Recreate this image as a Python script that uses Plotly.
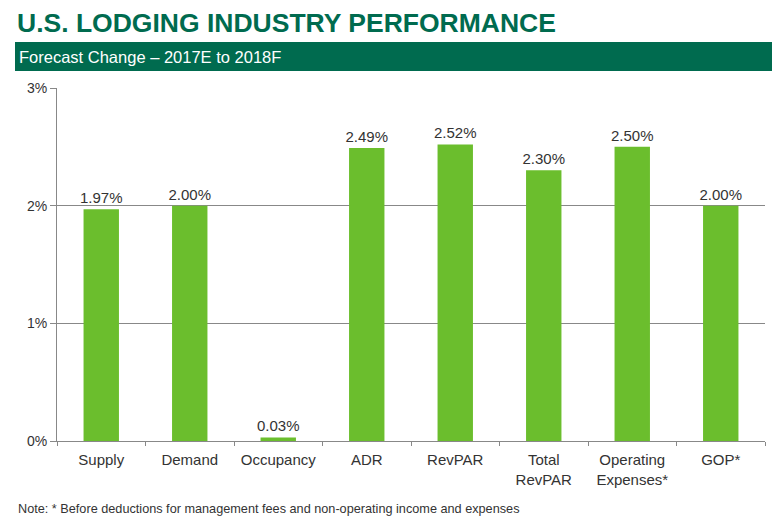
import plotly.graph_objects as go

categories = ["Supply", "Demand", "Occupancy", "ADR", "RevPAR", "Total<br>RevPAR", "Operating<br>Expenses*", "GOP*"]
values = [1.97, 2.00, 0.03, 2.49, 2.52, 2.30, 2.50, 2.00]
labels = ["1.97%", "2.00%", "0.03%", "2.49%", "2.52%", "2.30%", "2.50%", "2.00%"]
y_ticks = [0, 1, 2, 3]
y_tick_text = ["0%", "1%", "2%", "3%"]

OFF = 8  # default page body margin
W, H = 780 - OFF, 520 - OFF
# plot area in page pixels
PL, PR, PT, PB = 57, 765, 88, 441
L, T = PL - OFF, PT - OFF
R, B = W - (PR - OFF), H - (PB - OFF)
pw, ph = PR - PL, PB - PT

def px(x):
    return (x - PL) / pw

def py(y):
    return (PB - y) / ph

font = "Liberation Sans, Arial, sans-serif"
green_dark = "#006B4F"

fig = go.Figure()
fig.add_trace(go.Bar(
    x=categories, y=values, text=labels, textposition="outside",
    constraintext="none",
    textfont=dict(family=font, size=15, color="#333333"),
    marker=dict(color="#6BBE2D", line=dict(width=0)),
    cliponaxis=False, width=0.4,
))

fig.update_layout(
    width=W, height=H,
    margin=dict(l=L, r=R, t=T, b=B, pad=0),
    paper_bgcolor="white", plot_bgcolor="white",
    showlegend=False,
    font=dict(family=font, size=15, color="#333333"),
    xaxis=dict(
        showgrid=False, showline=True, linecolor="#888888", linewidth=1,
        ticks="outside", tickson="boundaries", ticklen=4, tickcolor="#888888",
        ticklabelstandoff=5,
        tickfont=dict(family=font, size=15, color="#333333"),
    ),
    yaxis=dict(
        range=[0, 3], tickvals=y_ticks, ticktext=y_tick_text,
        showgrid=True, gridcolor="#888888", gridwidth=1,
        showline=True, linecolor="#888888", linewidth=1,
        ticks="outside", ticklen=6, tickcolor="#888888",
        zeroline=False,
        tickfont=dict(family=font, size=14, color="#333333"),
    ),
    bargap=0.6,
)

# header band
fig.add_shape(type="rect", xref="paper", yref="paper",
              x0=px(15), x1=px(778), y0=py(71), y1=py(42),
              fillcolor=green_dark, line=dict(width=0), layer="above")

fig.add_annotation(xref="paper", yref="paper", x=px(15), y=py(23),
                   text="<b>U.S. LODGING INDUSTRY PERFORMANCE</b>",
                   showarrow=False, xanchor="left", yanchor="middle",
                   font=dict(family=font, size=26.5, color=green_dark))
fig.add_annotation(xref="paper", yref="paper", x=px(17), y=py(57),
                   text="Forecast Change \u2013 2017E to 2018F",
                   showarrow=False, xanchor="left", yanchor="middle",
                   font=dict(family=font, size=16.5, color="white"))
fig.add_annotation(xref="paper", yref="paper", x=px(16), y=py(509),
                   text="Note: * Before deductions for management fees and non-operating income and expenses",
                   showarrow=False, xanchor="left", yanchor="middle",
                   font=dict(family=font, size=12.7, color="#333333"))

fig.write_html("out.html")
